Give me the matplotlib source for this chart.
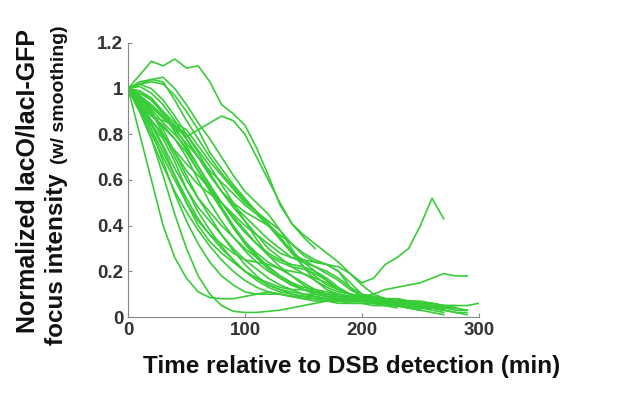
import matplotlib
matplotlib.use("Agg")
import matplotlib.pyplot as plt

# time step between samples (min)
dt = 10

# normalized focus intensity traces, one per cell, sampled every 10 min from t=0
s1 = [1.00, 1.06, 1.12, 1.10, 1.13, 1.09, 1.10, 1.03, 0.93, 0.89, 0.84, 0.74, 0.62, 0.49, 0.41, 0.36,
      0.32, 0.28, 0.24, 0.19, 0.15, 0.17, 0.23, 0.26, 0.30, 0.40, 0.52, 0.43]
s2 = [1.00, 0.97, 0.92, 0.87, 0.83, 0.79, 0.82, 0.85, 0.88, 0.86, 0.80, 0.70, 0.60, 0.50, 0.41, 0.35, 0.30]
s3 = [1.00, 1.03, 1.04, 1.05, 1.00, 0.93, 0.85, 0.78, 0.70, 0.62, 0.55, 0.50, 0.45, 0.38, 0.30, 0.22,
      0.16, 0.12, 0.10, 0.09, 0.08, 0.07, 0.06, 0.05, 0.04]
s4 = [1.00, 1.02, 1.03, 1.02, 0.97, 0.90, 0.82, 0.72, 0.65, 0.58, 0.52, 0.46, 0.40, 0.34, 0.28, 0.25,
      0.22, 0.19, 0.16, 0.12, 0.09, 0.08, 0.07, 0.06, 0.05, 0.05, 0.04, 0.03]
s5 = [1.00, 0.98, 0.95, 0.90, 0.85, 0.82, 0.75, 0.68, 0.62, 0.56, 0.50, 0.46, 0.42, 0.38, 0.32, 0.27,
      0.24, 0.23, 0.20, 0.13, 0.09, 0.08, 0.07, 0.06, 0.06, 0.05, 0.04]
s6 = [1.00, 0.95, 0.88, 0.86, 0.84, 0.80, 0.72, 0.63, 0.55, 0.50, 0.46, 0.43, 0.40, 0.35, 0.28, 0.22,
      0.18, 0.14, 0.12, 0.10, 0.09, 0.08, 0.07, 0.07, 0.06, 0.05, 0.05, 0.05, 0.05]
s7 = [1.00, 0.93, 0.86, 0.80, 0.72, 0.64, 0.58, 0.54, 0.50, 0.45, 0.40, 0.36, 0.32, 0.28, 0.26, 0.25,
      0.24, 0.23, 0.20, 0.15, 0.10, 0.08, 0.08, 0.07, 0.07, 0.06, 0.06, 0.05]
s8 = [1.00, 0.96, 0.90, 0.80, 0.70, 0.60, 0.52, 0.46, 0.40, 0.35, 0.30, 0.26, 0.22, 0.18, 0.15, 0.12,
      0.10, 0.09, 0.08, 0.08, 0.07, 0.06, 0.06, 0.05, 0.05, 0.04, 0.03, 0.02]
s9 = [1.00, 0.94, 0.85, 0.75, 0.65, 0.56, 0.48, 0.42, 0.36, 0.30, 0.25, 0.21, 0.17, 0.14, 0.12, 0.10,
      0.09, 0.08, 0.08, 0.08, 0.09, 0.10, 0.12, 0.13, 0.14, 0.15, 0.17, 0.19, 0.18, 0.18]
s10 = [1.00, 0.92, 0.82, 0.72, 0.62, 0.52, 0.43, 0.36, 0.30, 0.25, 0.20, 0.16, 0.13, 0.11, 0.10, 0.09,
       0.09, 0.08, 0.08, 0.07, 0.07, 0.06, 0.06, 0.05, 0.05, 0.04, 0.04, 0.03, 0.02, 0.01]
s11 = [1.00, 0.90, 0.78, 0.66, 0.55, 0.46, 0.38, 0.31, 0.25, 0.20, 0.16, 0.13, 0.11, 0.10, 0.09, 0.09,
       0.08, 0.08, 0.07, 0.07, 0.07, 0.06, 0.06, 0.05, 0.04, 0.03]
s12 = [1.00, 0.80, 0.60, 0.40, 0.26, 0.17, 0.11, 0.085, 0.08, 0.08, 0.09, 0.10, 0.11, 0.10, 0.09, 0.08,
       0.07, 0.07, 0.06, 0.06, 0.06, 0.05, 0.05, 0.04]
s13 = [1.00, 0.90, 0.78, 0.62, 0.45, 0.30, 0.18, 0.10, 0.05, 0.025, 0.02, 0.02, 0.025, 0.03, 0.04, 0.05,
       0.06, 0.07, 0.07, 0.08, 0.08, 0.07, 0.06, 0.05, 0.04]
s14 = [1.00, 0.92, 0.82, 0.68, 0.54, 0.42, 0.32, 0.24, 0.18, 0.14, 0.11, 0.10, 0.10, 0.10, 0.09, 0.08,
       0.08, 0.07, 0.07, 0.06, 0.06, 0.06, 0.05, 0.05, 0.05, 0.04, 0.04, 0.04, 0.03, 0.03]
s15 = [1.00, 0.97, 0.90, 0.82, 0.72, 0.62, 0.52, 0.44, 0.36, 0.29, 0.23, 0.18, 0.14, 0.12, 0.10, 0.09,
       0.09, 0.08, 0.08, 0.07, 0.07, 0.06, 0.06, 0.05, 0.05, 0.06, 0.06, 0.05, 0.05, 0.05, 0.06]
s16 = [1.00, 0.99, 0.96, 0.90, 0.83, 0.75, 0.66, 0.57, 0.48, 0.40, 0.33, 0.27, 0.22, 0.18, 0.15, 0.13,
       0.12, 0.11, 0.10, 0.09, 0.08, 0.08, 0.07, 0.07, 0.07, 0.06, 0.05, 0.04]
s17 = [1.00, 1.01, 0.98, 0.93, 0.86, 0.78, 0.70, 0.62, 0.55, 0.48, 0.42, 0.36, 0.30, 0.26, 0.22, 0.19,
       0.16, 0.13, 0.11, 0.10, 0.09, 0.09, 0.08, 0.08, 0.07, 0.06]
s18 = [1.00, 0.96, 0.92, 0.88, 0.84, 0.78, 0.70, 0.62, 0.55, 0.49, 0.44, 0.39, 0.34, 0.30, 0.26, 0.24,
       0.22, 0.20, 0.17, 0.13, 0.10, 0.09, 0.08, 0.08, 0.07, 0.07, 0.06, 0.05, 0.04]
s19 = [1.00, 0.94, 0.86, 0.79, 0.73, 0.67, 0.62, 0.56, 0.50, 0.44, 0.38, 0.32, 0.27, 0.24, 0.22, 0.21,
       0.19, 0.16, 0.12, 0.10, 0.09, 0.08, 0.08, 0.07, 0.06, 0.06, 0.05, 0.04]
s20 = [1.00, 0.90, 0.84, 0.78, 0.68, 0.56, 0.46, 0.38, 0.31, 0.25, 0.20, 0.17, 0.15, 0.13, 0.12, 0.12,
       0.11, 0.10, 0.09, 0.08, 0.08, 0.07, 0.06, 0.06, 0.05, 0.05, 0.04]
s21 = [1.00, 1.02, 1.00, 0.95, 0.88, 0.80, 0.73, 0.66, 0.58, 0.50, 0.42, 0.34, 0.27, 0.22, 0.18, 0.15,
       0.12, 0.10, 0.09, 0.08, 0.08, 0.07, 0.06, 0.06, 0.05, 0.05, 0.05, 0.04, 0.04, 0.03]
s22 = [1.00, 0.95, 0.89, 0.83, 0.78, 0.72, 0.64, 0.56, 0.48, 0.40, 0.33, 0.28, 0.24, 0.21, 0.20, 0.19,
       0.17, 0.15, 0.12, 0.10, 0.09, 0.08, 0.07, 0.06, 0.06, 0.05]
s23 = [1.00, 0.91, 0.80, 0.70, 0.60, 0.50, 0.42, 0.36, 0.32, 0.28, 0.25, 0.24, 0.23, 0.21, 0.18, 0.14,
       0.11, 0.09, 0.08, 0.07, 0.07, 0.06, 0.06, 0.05, 0.04, 0.03]
s24 = [1.00, 0.97, 0.93, 0.88, 0.82, 0.76, 0.70, 0.64, 0.59, 0.54, 0.49, 0.45, 0.40, 0.36, 0.32, 0.28,
       0.25, 0.23, 0.22, 0.19, 0.14, 0.10, 0.08, 0.07, 0.06, 0.05, 0.04, 0.03]
s25 = [1.00, 0.93, 0.84, 0.74, 0.62, 0.50, 0.40, 0.33, 0.28, 0.24, 0.20, 0.17, 0.14, 0.12, 0.11, 0.10,
       0.10, 0.09, 0.09, 0.08, 0.08, 0.07, 0.06, 0.05, 0.04, 0.03, 0.02, 0.01]
s26 = [1.00, 1.02, 1.04, 1.03, 0.95, 0.86, 0.78, 0.70, 0.63, 0.57, 0.51, 0.46, 0.41, 0.35, 0.29, 0.24,
       0.20, 0.16, 0.12, 0.10, 0.09, 0.08, 0.07, 0.07, 0.06, 0.05, 0.05, 0.04]
s27 = [1.00, 0.97, 0.91, 0.85, 0.80, 0.74, 0.66, 0.58, 0.50, 0.43, 0.37, 0.32, 0.28, 0.25, 0.23, 0.22,
       0.20, 0.17, 0.13, 0.10, 0.08, 0.07, 0.07, 0.06, 0.05]
s28 = [1.00, 0.93, 0.88, 0.84, 0.78, 0.70, 0.60, 0.50, 0.42, 0.35, 0.29, 0.24, 0.20, 0.17, 0.14, 0.12,
       0.11, 0.10, 0.09, 0.09, 0.08, 0.08, 0.07, 0.06, 0.05, 0.04, 0.04, 0.03, 0.02, 0.02]
s29 = [1.00, 0.99, 0.95, 0.89, 0.81, 0.73, 0.64, 0.55, 0.47, 0.39, 0.32, 0.26, 0.21, 0.17, 0.14, 0.12,
       0.11, 0.10, 0.10, 0.09, 0.08, 0.07, 0.06, 0.05, 0.04, 0.03]

traces = [s1, s2, s3, s4, s5, s6, s7, s8, s9, s10, s11, s12, s13, s14, s15,
          s16, s17, s18, s19, s20, s21, s22, s23, s24, s25, s26, s27, s28, s29]

xticks = [0, 100, 200, 300]
yticks = [0, 0.2, 0.4, 0.6, 0.8, 1, 1.2]
ytick_labels = ['0', '0.2', '0.4', '0.6', '0.8', '1', '1.2']

plt.rcParams['font.family'] = ['Liberation Sans', 'DejaVu Sans']

fig = plt.figure(figsize=(6.17, 3.97), dpi=100)
ax = fig.add_axes([0.2075, 0.2015, 0.5685, 0.6902])

for s in traces:
    t = [i * dt for i in range(len(s))]
    ax.plot(t, s, color='#38cc38', linewidth=1.2)

ax.set_xlim(0, 300)
ax.set_ylim(0, 1.2)
ax.set_xticks(xticks)
ax.set_yticks(yticks)
ax.set_yticklabels(ytick_labels)
ax.tick_params(direction='in', length=3, colors='#888888', labelcolor='#333333',
               labelsize=13.5, pad=3.5)
for lab in ax.get_xticklabels() + ax.get_yticklabels():
    lab.set_fontweight('bold')
for side in ['top', 'right']:
    ax.spines[side].set_visible(False)
for side in ['left', 'bottom']:
    ax.spines[side].set_color('#888888')
    ax.spines[side].set_linewidth(0.8)

fig.text(352 / 617, 1 - 367 / 397, 'Time relative to DSB detection (min)',
         ha='center', va='center', fontsize=17.5, fontweight='bold', color='#111111')

# two-line y label, second line has a smaller note
fig.text(28 / 617, 1 - 181 / 397, 'Normalized lacO/lacI-GFP', rotation=90,
         ha='center', va='center', fontsize=18, fontweight='bold', color='#111111')
fig.text(57 / 617, 1 - 345 / 397, 'focus intensity', rotation=90,
         ha='center', va='bottom', fontsize=17.5, fontweight='bold', color='#111111')
fig.text(59 / 617, 1 - 25 / 397, '(w/ smoothing)', rotation=90,
         ha='center', va='top', fontsize=14, fontweight='bold', color='#111111')

fig.savefig('out.png', dpi=100)
